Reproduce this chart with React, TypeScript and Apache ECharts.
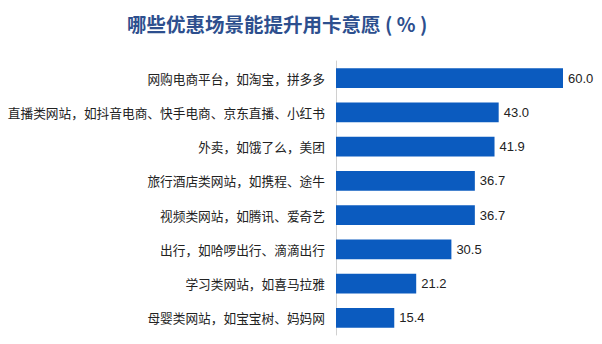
import React, { useEffect, useRef } from "react";
import * as echarts from "echarts";

const categories = [
  "网购电商平台，如淘宝，拼多多",
  "直播类网站，如抖音电商、快手电商、京东直播、小红书",
  "外卖，如饿了么，美团",
  "旅行酒店类网站，如携程、途牛",
  "视频类网站，如腾讯、爱奇艺",
  "出行，如哈啰出行、滴滴出行",
  "学习类网站，如喜马拉雅",
  "母婴类网站，如宝宝树、妈妈网",
];
const values = [60.0, 43.0, 41.9, 36.7, 36.7, 30.5, 21.2, 15.4];
const titleText = "哪些优惠场景能提升用卡意愿 ( % )";

export default function App() {
  const ref = useRef<HTMLDivElement>(null);
  useEffect(() => {
    if (!ref.current) return;
    const chart = echarts.init(ref.current, null, { renderer: "svg" });
    chart.setOption({
      animation: false,
      backgroundColor: "#ffffff",
      title: {
        text: titleText,
        left: 122,
        top: 9,
        textStyle: {
          fontFamily: "Noto Sans CJK SC",
          fontSize: 19.5,
          fontWeight: "bold",
          color: "#2D4F8E",
        },
      },
      grid: { left: 336, right: 39, top: 61, bottom: 9, containLabel: false },
      xAxis: {
        type: "value",
        min: 0,
        max: 60,
        show: false,
      },
      yAxis: {
        type: "category",
        data: categories,
        inverse: true,
        axisLine: { show: true, lineStyle: { color: "#d0d0d0", width: 1 } },
        axisTick: { show: false },
        axisLabel: {
          margin: 11,
          fontFamily: "Noto Sans CJK SC",
          fontSize: 12.7,
          color: "#222222",
        },
      },
      series: [
        {
          type: "bar",
          data: values,
          barCategoryGap: "43%",
          itemStyle: { color: "#0B5BBF" },
          label: {
            show: true,
            position: "right",
            distance: 5,
            formatter: (p: any) => Number(p.value).toFixed(1),
            fontFamily: "Liberation Sans, Arial, sans-serif",
            fontSize: 13,
            color: "#222222",
          },
        },
      ],
    });
    return () => chart.dispose();
  }, []);
  return (
    <div
      ref={ref}
      style={{ width: 602, height: 344, position: "absolute", left: 0, top: 0 }}
    />
  );
}
